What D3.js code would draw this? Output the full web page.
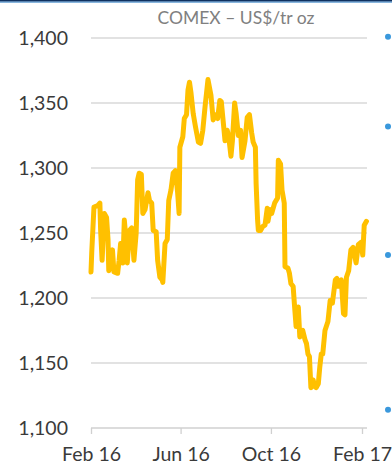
<!DOCTYPE html>
<html>
<head>
<meta charset="utf-8">
<script src="https://cdn.jsdelivr.net/npm/d3@7"></script>
<style>
  html, body { margin: 0; padding: 0; background: #ffffff; }
  svg { display: block; }
</style>
</head>
<body>
<svg id="chart" width="392" height="467"></svg>
<script>
// ---- Data ----
const title = "COMEX – US$/tr oz";
const dates = [
  "2016-02-01","2016-02-02","2016-02-05","2016-02-10","2016-02-13","2016-02-14","2016-02-16","2016-02-19","2016-02-22","2016-02-24",
  "2016-02-25","2016-03-01","2016-03-03","2016-03-08","2016-03-10","2016-03-12","2016-03-15","2016-03-17","2016-03-19","2016-03-21",
  "2016-03-24","2016-03-27","2016-03-30","2016-04-02","2016-04-04","2016-04-06","2016-04-09","2016-04-11","2016-04-14","2016-04-18",
  "2016-04-20","2016-04-23","2016-04-25","2016-04-29","2016-05-01","2016-05-04","2016-05-07","2016-05-08","2016-05-11","2016-05-14",
  "2016-05-16","2016-05-19","2016-05-22","2016-05-25","2016-05-28","2016-05-30","2016-05-31","2016-06-02","2016-06-04","2016-06-06",
  "2016-06-09","2016-06-11","2016-06-13","2016-06-15","2016-06-18","2016-06-21","2016-06-25","2016-06-28","2016-07-01","2016-07-04",
  "2016-07-08","2016-07-12","2016-07-15","2016-07-17","2016-07-21","2016-07-24","2016-07-26","2016-07-28","2016-07-31","2016-08-03",
  "2016-08-05","2016-08-08","2016-08-10","2016-08-13","2016-08-15","2016-08-18","2016-08-21","2016-08-23","2016-08-27","2016-08-30",
  "2016-09-02","2016-09-05","2016-09-07","2016-09-10","2016-09-11","2016-09-13","2016-09-14","2016-09-17","2016-09-20","2016-09-23",
  "2016-09-26","2016-09-27","2016-09-30","2016-10-02","2016-10-06","2016-10-10","2016-10-11","2016-10-14","2016-10-16","2016-10-19",
  "2016-10-20","2016-10-24","2016-10-26","2016-10-28","2016-10-31","2016-11-02","2016-11-04","2016-11-07","2016-11-09","2016-11-11",
  "2016-11-13","2016-11-16","2016-11-18","2016-11-20","2016-11-22","2016-11-24","2016-11-27","2016-11-29","2016-12-01","2016-12-04",
  "2016-12-06","2016-12-08","2016-12-10","2016-12-13","2016-12-17","2016-12-20","2016-12-23","2016-12-27","2016-12-29","2016-12-31",
  "2017-01-04","2017-01-07","2017-01-09","2017-01-11","2017-01-14","2017-01-17","2017-01-20","2017-01-24","2017-01-27","2017-01-31",
  "2017-02-02","2017-02-04","2017-02-07"
];
const prices = [
  1220,1235,1270,1271,1273,1252,1229,1265,1262,1245,
  1221,1237,1220,1219,1229,1242,1227,1260,1247,1227,
  1252,1254,1229,1250,1291,1296,1295,1265,1268,1281,
  1275,1273,1252,1251,1229,1216,1214,1212,1242,1245,
  1275,1283,1296,1298,1281,1265,1316,1320,1324,1338,
  1341,1360,1366,1358,1342,1332,1320,1319,1329,1347,
  1368,1356,1337,1341,1338,1352,1351,1339,1321,1329,
  1324,1309,1321,1350,1342,1325,1329,1308,1321,1339,
  1341,1327,1320,1316,1288,1260,1252,1252,1255,1256,
  1269,1259,1268,1265,1273,1277,1306,1303,1283,1273,
  1224,1223,1219,1211,1209,1193,1178,1193,1170,1174,
  1175,1168,1165,1157,1155,1131,1137,1132,1131,1134,
  1147,1157,1157,1175,1182,1198,1196,1214,1215,1209,
  1214,1188,1187,1216,1221,1237,1239,1227,1241,1243,
  1233,1256,1259
];
const yTicks = [1100, 1150, 1200, 1250, 1300, 1350, 1400];
const xTickDates = ["2016-02-01", "2016-06-01", "2016-10-01", "2017-02-01"];
const xTickLabels = ["Feb 16", "Jun 16", "Oct 16", "Feb 17"];

// ---- Layout ----
const svg = d3.select("#chart");
const parse = d3.timeParse("%Y-%m-%d");
const data = dates.map((d, i) => ({ date: parse(d), value: prices[i] }));

const x = d3.scaleTime()
  .domain([parse("2016-02-01"), parse("2017-02-01")])
  .range([91, 362]);
const y = d3.scaleLinear().domain([1100, 1400]).range([428, 38]);

const FONT = "Lato, 'Open Sans', sans-serif";

// top border
svg.append("rect").attr("x", 0).attr("y", 0).attr("width", 392).attr("height", 1.6).attr("fill", "#10315f");
svg.append("rect").attr("x", 0).attr("y", 1.6).attr("width", 392).attr("height", 1).attr("fill", "#3b86c8");

// gridlines
svg.append("g").selectAll("line")
  .data(yTicks.filter(t => t !== 1100))
  .join("line")
  .attr("x1", 91).attr("x2", 367)
  .attr("y1", d => y(d)).attr("y2", d => y(d))
  .attr("stroke", "#d9d9d9").attr("stroke-width", 1.3);

// y labels
svg.append("g").selectAll("text")
  .data(yTicks)
  .join("text")
  .attr("x", 68).attr("y", d => y(d))
  .attr("dy", "0.36em")
  .attr("text-anchor", "end")
  .attr("font-family", FONT).attr("font-size", 19.5)
  .attr("fill", "#3a3a3a")
  .text(d => d3.format(",")(d));

// x axis
const xAxis = d3.axisBottom(x)
  .tickValues(xTickDates.map(parse))
  .tickFormat((d, i) => xTickLabels[i])
  .tickSize(6).tickPadding(13);
const gx = svg.append("g").attr("transform", `translate(0,${y(1100)})`).call(xAxis);
gx.select(".domain").attr("d", `M91,0H367`).attr("stroke", "#d0d0d0").attr("stroke-width", 1.3);
gx.selectAll(".tick line").attr("stroke", "#d0d0d0").attr("stroke-width", 1.3);
gx.selectAll(".tick text")
  .attr("font-family", FONT).attr("font-size", 19.5).attr("fill", "#3a3a3a");

// title
svg.append("text")
  .attr("x", 236).attr("y", 24)
  .attr("text-anchor", "middle")
  .attr("font-family", FONT).attr("font-size", 17.5)
  .attr("fill", "#808080")
  .text(title);

// price line
const line = d3.line().x(d => x(d.date)).y(d => y(d.value));
svg.append("path")
  .datum(data)
  .attr("d", line)
  .attr("fill", "none")
  .attr("stroke", "#ffc000")
  .attr("stroke-width", 5)
  .attr("stroke-linejoin", "round")
  .attr("stroke-linecap", "round");

// bullets of adjoining text panel (cut off at right edge)
const bulletLevels = [1401, 1332, 1233, 1114];
svg.append("g").selectAll("circle")
  .data(bulletLevels)
  .join("circle")
  .attr("cx", 388).attr("cy", d => y(d)).attr("r", 3)
  .attr("fill", "#3a98dc");
</script>
</body>
</html>
